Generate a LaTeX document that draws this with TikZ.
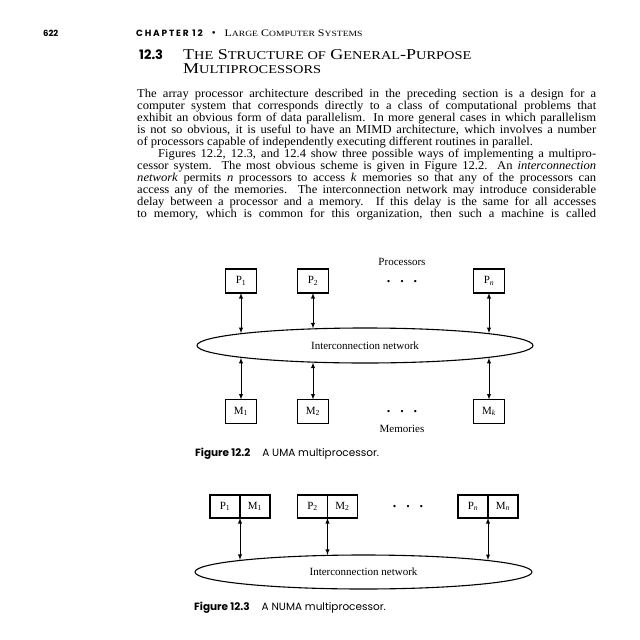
\documentclass[tikz,border=0pt]{standalone}
\usepackage{fontspec}
\setmainfont{Liberation Serif}
\newfontfamily\capfont{Poppins}
\newfontfamily\widefont[FakeStretch = 1.2]{Liberation Serif}
\newfontfamily\bodyfont[FakeStretch = 1.05]{Liberation Serif}
\usetikzlibrary{shapes.geometric,positioning,arrows}

\newcommand{\hdsc}[2]{#1{\fontsize{8}{8}\selectfont #2}}
\newcommand{\ttsc}[2]{#1{\fontsize{12}{12}\selectfont #2}}

\begin{document}
\begin{tikzpicture}[x=1pt, y=-1pt,
            font = \fontsize{11}{13}\selectfont,
            proc/.style = {draw, line width = 1.1pt, minimum width = 31pt, minimum height = 24pt, inner sep = 0pt, outer sep = 0pt},
            half/.style = {draw, line width = 1.1pt, minimum width = 30pt, minimum height = 23pt, inner sep = 0pt, outer sep = 0pt},
            net/.style = {draw, ellipse, line width = 1.1pt, minimum width = 336pt, minimum height = 35pt, inner sep = 0pt},
            link/.style = {<->, >=latex, line width = 0.9pt},
            dots/.style = {font = \fontsize{14}{14}\selectfont\bfseries, inner sep = 0pt},
            capt/.style = {anchor = base west, inner sep = 0pt, font = \capfont\fontsize{10.5}{12}\selectfont}]
            \useasboundingbox[fill = white] (0,0) rectangle (640,640);
            % running head and section title
            \node[anchor = base west, inner sep = 0pt, font = \capfont\bfseries\fontsize{8.5}{10}\selectfont] (pageno) at (43,36.5) {622};
            \node[anchor = base west, inner sep = 0pt] (head) at (136,36.5)
                {{\capfont\bfseries\fontsize{9}{10}\selectfont\addfontfeatures{LetterSpace = 20}CHAPTER 12}\hspace{9pt}\textbullet\hspace{9pt}{\widefont\fontsize{10}{10}\selectfont\hdsc{L}{ARGE} \hdsc{C}{OMPUTER} \hdsc{S}{YSTEMS}}};
            \node[anchor = base west, inner sep = 0pt, font = \capfont\bfseries\fontsize{13}{14}\selectfont] (secno) at (139,59.5) {12.3};
            \node[anchor = base west, inner sep = 0pt, font = \widefont\fontsize{15}{15}\selectfont] (title) at (183,59.5)
                {\ttsc{T}{HE} \ttsc{S}{TRUCTURE OF} \ttsc{G}{ENERAL}-\ttsc{P}{URPOSE}};
            \node[anchor = base west, inner sep = 0pt, font = \widefont\fontsize{15}{15}\selectfont] (title2) at (183,73) {\ttsc{M}{ULTIPROCESSORS}};
            % body text
            \node[anchor = north west, inner sep = 0pt, text width = 459pt, align = justify, font = \bodyfont\fontsize{12}{12}\selectfont] (body) at (137,88.5)
                {The array processor architecture described in the preceding section is a design for a\linebreak
                computer system that corresponds directly to a class of computational problems that\linebreak
                exhibit an obvious form of data parallelism. In more general cases in which parallelism\linebreak
                is not so obvious, it is useful to have an MIMD architecture, which involves a number\linebreak
                of processors capable of independently executing different routines in parallel.\par
                \hspace*{21pt}Figures 12.2, 12.3, and 12.4 show three possible ways of implementing a multipro-\linebreak
                cessor system. The most obvious scheme is given in Figure 12.2. An \textit{interconnection}\linebreak
                \textit{network} permits \textit{n} processors to access \textit{k} memories so that any of the processors can\linebreak
                access any of the memories. The interconnection network may introduce considerable\linebreak
                delay between a processor and a memory. If this delay is the same for all accesses\linebreak
                to memory, which is common for this organization, then such a machine is called\parfillskip=0pt\par};
            % Figure 12.2
            \node (proclab) at (402,262) {Processors};
            \node[proc] (p1) at (241,281) {P\textsubscript{1}};
            \node[proc] (p2) at (313,281) {P\textsubscript{2}};
            \node[proc] (pn) at (489,281) {P\textsubscript{\textit{n}}};
            \node[dots] (pdots) at (402,282) {.\hspace{10pt}.\hspace{10pt}.};
            \node[net] (net) at (365,345.5) {Interconnection network};
            \node[proc] (m1) at (241,411.5) {M\textsubscript{1}};
            \node[proc] (m2) at (313,411.5) {M\textsubscript{2}};
            \node[proc] (mk) at (489,411.5) {M\textsubscript{\textit{k}}};
            \node[dots] (mdots) at (402,411.5) {.\hspace{10pt}.\hspace{10pt}.};
            \node (memlab) at (402,429) {Memories};
            % points where the links meet the ellipse
            \coordinate (e1) at (241,333.2);
            \coordinate (e2) at (313,328.4);
            \coordinate (en) at (489,333.2);
            \coordinate (f1) at (241,357.8);
            \coordinate (f2) at (313,362.6);
            \coordinate (fk) at (489,357.8);
            \draw[link] (p1.south) -- (e1);
            \draw[link] (p2.south) -- (e2);
            \draw[link] (pn.south) -- (en);
            \draw[link] (f1) -- (m1.north);
            \draw[link] (f2) -- (m2.north);
            \draw[link] (fk) -- (mk.north);
            \node[capt] (cap2) at (195,456) {{\bfseries Figure 12.2}\hspace{12pt}A UMA multiprocessor.};
            % Figure 12.3
            \node[half] (q1) at (225,506.5) {P\textsubscript{1}};
            \node[half, right = 0pt of q1] (r1) {M\textsubscript{1}};
            \node[half] (q2) at (312.5,506.5) {P\textsubscript{2}};
            \node[half, right = 0pt of q2] (r2) {M\textsubscript{2}};
            \node[half] (qn) at (473,506.5) {P\textsubscript{\textit{n}}};
            \node[half, right = 0pt of qn] (rn) {M\textsubscript{\textit{n}}};
            \node[dots] (qdots) at (408,507) {.\hspace{10pt}.\hspace{10pt}.};
            \node[net, minimum width = 337pt, minimum height = 34pt] (net2) at (363.5,572) {Interconnection network};
            \coordinate (g1) at (240,559.9);
            \coordinate (g2) at (327.5,554.9);
            \coordinate (gn) at (488,560);
            \draw[link] (q1.south east) -- (g1);
            \draw[link] (q2.south east) -- (g2);
            \draw[link] (qn.south east) -- (gn);
            \node[capt] (cap3) at (194,610.5) {{\bfseries Figure 12.3}\hspace{12pt}A NUMA multiprocessor.};
        \end{tikzpicture}
\end{document}
